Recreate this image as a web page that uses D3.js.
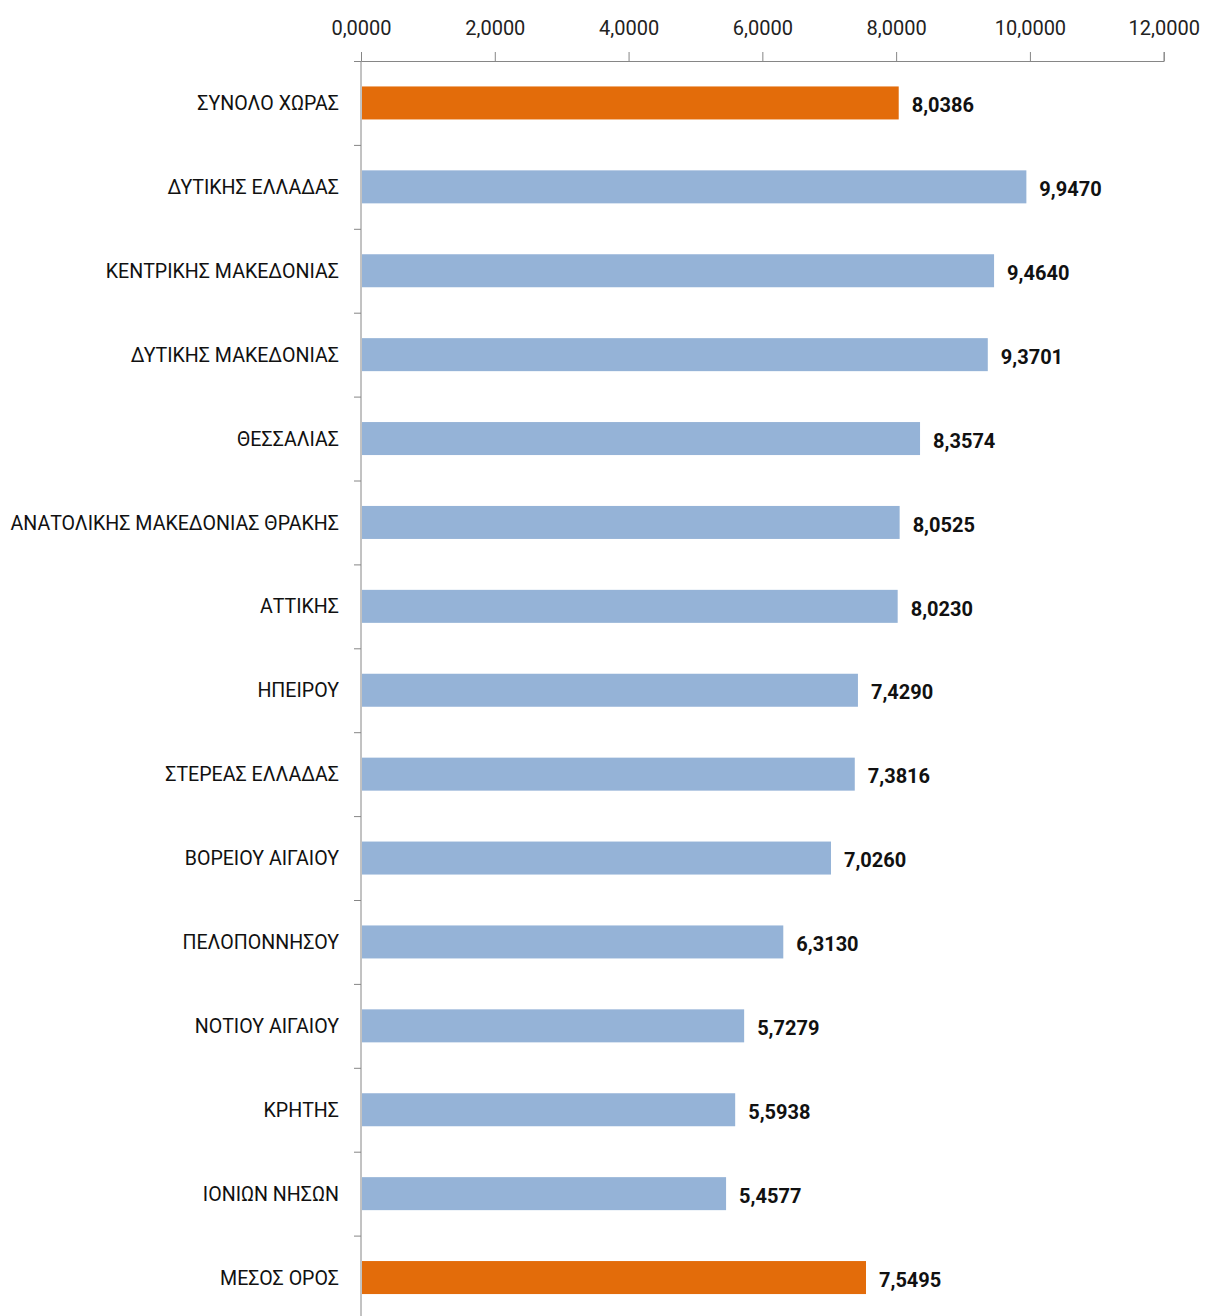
<!DOCTYPE html>
<html><head><meta charset="utf-8">
<script src="https://cdn.jsdelivr.net/npm/d3@7"></script>
<style>body{margin:0;background:#fff}svg{display:block}</style>
</head><body>
<svg id="c" width="1205" height="1316"></svg>
<script>
const categories = ["ΣΥΝΟΛΟ ΧΩΡΑΣ","ΔΥΤΙΚΗΣ ΕΛΛΑΔΑΣ","ΚΕΝΤΡΙΚΗΣ ΜΑΚΕΔΟΝΙΑΣ","ΔΥΤΙΚΗΣ ΜΑΚΕΔΟΝΙΑΣ","ΘΕΣΣΑΛΙΑΣ","ΑΝΑΤΟΛΙΚΗΣ ΜΑΚΕΔΟΝΙΑΣ ΘΡΑΚΗΣ","ΑΤΤΙΚΗΣ","ΗΠΕΙΡΟΥ","ΣΤΕΡΕΑΣ ΕΛΛΑΔΑΣ","ΒΟΡΕΙΟΥ ΑΙΓΑΙΟΥ","ΠΕΛΟΠΟΝΝΗΣΟΥ","ΝΟΤΙΟΥ ΑΙΓΑΙΟΥ","ΚΡΗΤΗΣ","ΙΟΝΙΩΝ ΝΗΣΩΝ","ΜΕΣΟΣ ΟΡΟΣ"];
const values = [8.0386,9.9470,9.4640,9.3701,8.3574,8.0525,8.0230,7.4290,7.3816,7.0260,6.3130,5.7279,5.5938,5.4577,7.5495];
const highlighted = ["ΣΥΝΟΛΟ ΧΩΡΑΣ","ΜΕΣΟΣ ΟΡΟΣ"];
const xTicks = [0,2,4,6,8,10,12];

const fmt = v => v.toFixed(4).replace(".", ",");
const svg = d3.select("#c");
const font = "Roboto, 'Noto Sans', sans-serif";
const x = d3.scaleLinear().domain([0,12]).range([361,1163.7]);
const y = d3.scaleBand().domain(categories).range([61, 61 + 15*83.9]);
const barH = 33;

// x axis at top
const xa = svg.append("g").attr("transform","translate(0,61)")
  .call(d3.axisTop(x).tickValues(xTicks).tickFormat(fmt).tickSize(9).tickSizeOuter(9));
xa.select(".domain").attr("stroke","#868686");
xa.selectAll(".tick line").attr("stroke","#868686");
xa.selectAll(".tick text").attr("font-family",font).attr("font-size",20).attr("fill","#222").attr("dy","0").attr("y",-26);

// y axis
const ya = svg.append("g").attr("transform","translate(361,0)");
ya.append("line").attr("x1",0).attr("x2",0).attr("y1",61).attr("y2",1316).attr("stroke","#868686");
ya.selectAll("line.tk").data(categories).join("line").attr("class","tk")
  .attr("x1",-7).attr("x2",0).attr("y1",d=>y(d)+0.5).attr("y2",d=>y(d)+0.5).attr("stroke","#868686");
ya.selectAll("text").data(categories).join("text")
  .attr("x",-22).attr("y",d=>y(d)+y.bandwidth()/2).attr("dy","0.36em")
  .attr("text-anchor","end").attr("font-family",font).attr("font-size",19.6).attr("fill","#111")
  .text(d=>d);

// bars
const off = (y.bandwidth()-barH)/2;
svg.selectAll("rect.bar").data(categories).join("rect").attr("class","bar")
  .attr("x",x(0)+1).attr("y",d=>y(d)+off)
  .attr("width",(d,i)=>x(values[i])-x(0)-1).attr("height",barH)
  .attr("fill",d=>highlighted.includes(d)?"#E36C0A":"#95B3D7");

svg.selectAll("text.val").data(categories).join("text").attr("class","val")
  .attr("x",(d,i)=>x(values[i])+13).attr("y",d=>y(d)+y.bandwidth()/2+2).attr("dy","0.36em")
  .attr("font-family",font).attr("font-weight","bold").attr("font-size",20).attr("fill","#111")
  .text((d,i)=>fmt(values[i]));
</script>
</body></html>
